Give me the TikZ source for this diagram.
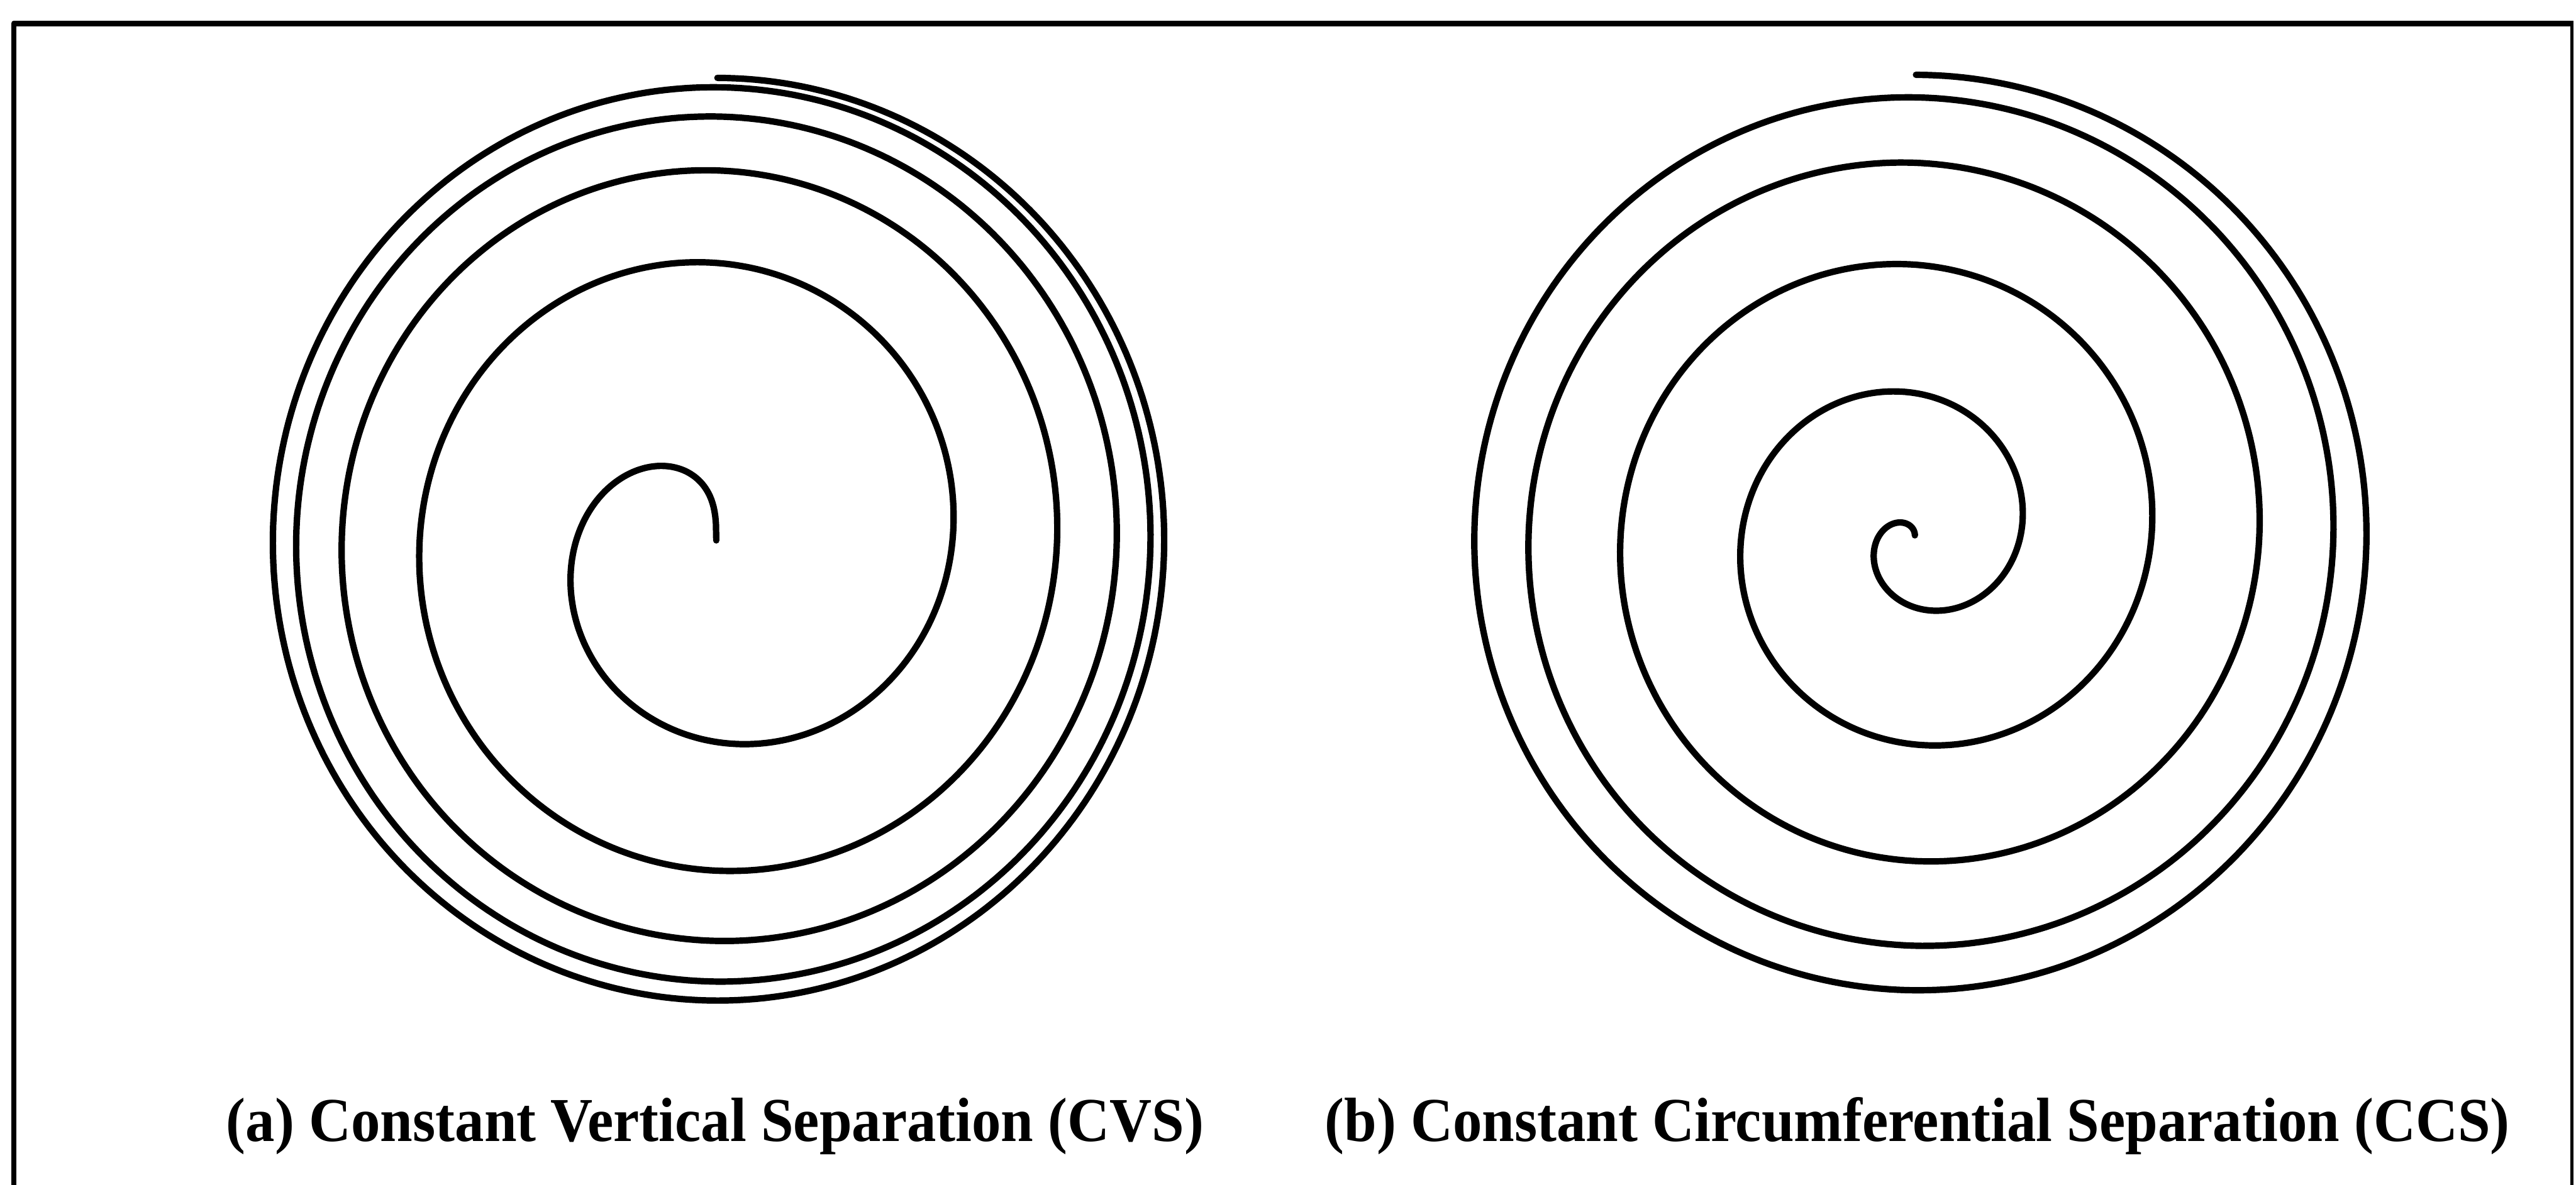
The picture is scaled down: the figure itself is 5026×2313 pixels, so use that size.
\documentclass[tikz,border=0pt]{standalone}
\usepackage{graphicx}
\usepackage{fontspec}
\setmainfont{Liberation Serif}
\begin{document}
\begin{tikzpicture}[x=0.01cm,y=-0.01cm,line cap=round,line join=round]
\tikzset{
  frameline/.style={line width=0.11cm,line cap=butt},
  spiralline/.style={line width=0.125cm},
  caption/.style={inner sep=0pt,anchor=base west,font=\fontsize{32.4}{38}\selectfont\bfseries}
}
\useasboundingbox (0,0) rectangle (5026,2313);
% frame
\draw[frameline] (27,2330) -- (27,45.5) -- (5021,45.5);
\draw[line width=0.05cm] (5018,45.5) -- (5018,2330);
% (a) constant vertical separation spiral
\draw[spiralline] plot[domain=0:5,samples=1500,variable=\t]
  ({1397.5+875*sqrt(max(0,0.4*\t-0.04*\t*\t))*cos(90+360*\t)},
   {1054.8-902.7*sqrt(max(0,0.4*\t-0.04*\t*\t))*sin(90+360*\t)});
% (b) constant circumferential separation spiral
\draw[spiralline] plot[domain=0:5,samples=1500,variable=\t]
  ({3736+884*sin(18*\t)*cos(90+360*\t)},
   {1045-899*sin(18*\t)*sin(90+360*\t)});
% captions
\node[caption] (capa) at (441,2228) {\scalebox{1}[1.07]{(a) Constant Vertical Separation (CVS)}};
\node[caption] (capb) at (2584,2228) {\scalebox{1}[1.07]{(b) Constant Circumferential Separation (CCS)}};
\end{tikzpicture}
\end{document}
